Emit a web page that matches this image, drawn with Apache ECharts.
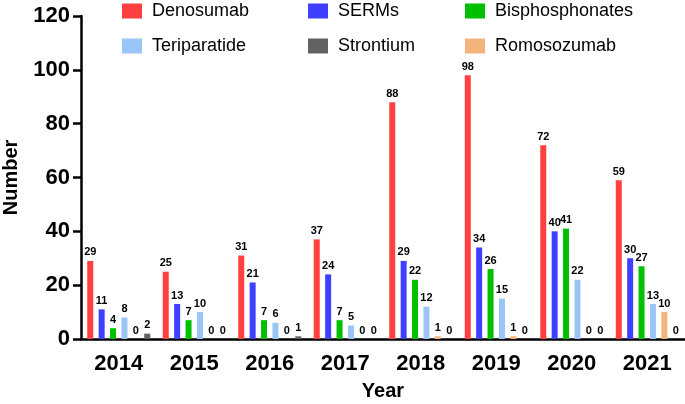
<!DOCTYPE html>
<html><head><meta charset="utf-8">
<script src="https://cdn.jsdelivr.net/npm/echarts@6/dist/echarts.min.js"></script>
<style>html,body{margin:0;padding:0;background:#fff}#c{width:685px;height:404px}</style>
</head><body><div id="c"></div>
<script>
const years = ['2014','2015','2016','2017','2018','2019','2020','2021'];
const denosumab = [29,25,31,37,88,98,72,59];
const serms = [11,13,21,24,29,34,40,30];
const bisphosphonates = [4,7,7,7,22,26,41,27];
const teriparatide = [8,10,6,5,12,15,22,13];
const romosozumab = [0,0,0,0,1,1,0,10];
const strontium = [2,0,1,0,0,0,0,0];
const yTicks = [0,20,40,60,80,100,120];

const font = 'Liberation Sans, Arial, sans-serif';
const colors = {Denosumab:'#FF4040', SERMs:'#3F3FFF', Bisphosphonates:'#00C000', Teriparatide:'#99C5F7', Strontium:'#626262', Romosozumab:'#F3B47C'};
function s(name, data){
  return {name, type:'bar', data, barWidth:6, barGap:'90%', itemStyle:{color:colors[name]},
    label:{show:true, position:'top', distance:3, color:'#000', fontWeight:'bold', fontSize:11, fontFamily:font}};
}
function legend(left, names){
  return {left, top:2, padding:0, orient:'vertical', itemWidth:20, itemHeight:15, itemGap:17, icon:'rect',
    textStyle:{fontSize:18, fontFamily:font, color:'#000', padding:[0,0,0,5]}, data:names, selectedMode:false};
}
const chart = echarts.init(document.getElementById('c'));
chart.setOption({
  animation:false,
  grid:{left:81, right:0, top:16, bottom:65, containLabel:false, outerBoundsMode:'none'},
  legend:[legend(122,['Denosumab','Teriparatide']), legend(308,['SERMs','Strontium']), legend(465,['Bisphosphonates','Romosozumab'])],
  xAxis:{type:'category', data:years, name:'Year', nameLocation:'middle', nameGap:42,
    nameTextStyle:{fontSize:20, fontWeight:'bold', fontFamily:font, color:'#000'},
    axisLine:{lineStyle:{color:'#000', width:2.5}},
    axisTick:{alignWithLabel:true, length:8, lineStyle:{width:2.5, color:'#000'}},
    axisLabel:{fontSize:22, fontWeight:'bold', fontFamily:font, color:'#000', margin:14}},
  yAxis:{type:'value', min:yTicks[0], max:yTicks[yTicks.length-1], interval:20, name:'Number', nameLocation:'middle', nameGap:60,
    nameTextStyle:{fontSize:20, fontWeight:'bold', fontFamily:font, color:'#000'},
    axisLine:{show:true, lineStyle:{color:'#000', width:2.5}},
    axisTick:{show:true, length:8, lineStyle:{width:2.5, color:'#000'}},
    splitLine:{show:false},
    axisLabel:{fontSize:22, fontWeight:'bold', fontFamily:font, color:'#000', margin:11}},
  series:[s('Denosumab',denosumab), s('SERMs',serms), s('Bisphosphonates',bisphosphonates), s('Teriparatide',teriparatide), s('Romosozumab',romosozumab), s('Strontium',strontium)]
});
</script></body></html>
